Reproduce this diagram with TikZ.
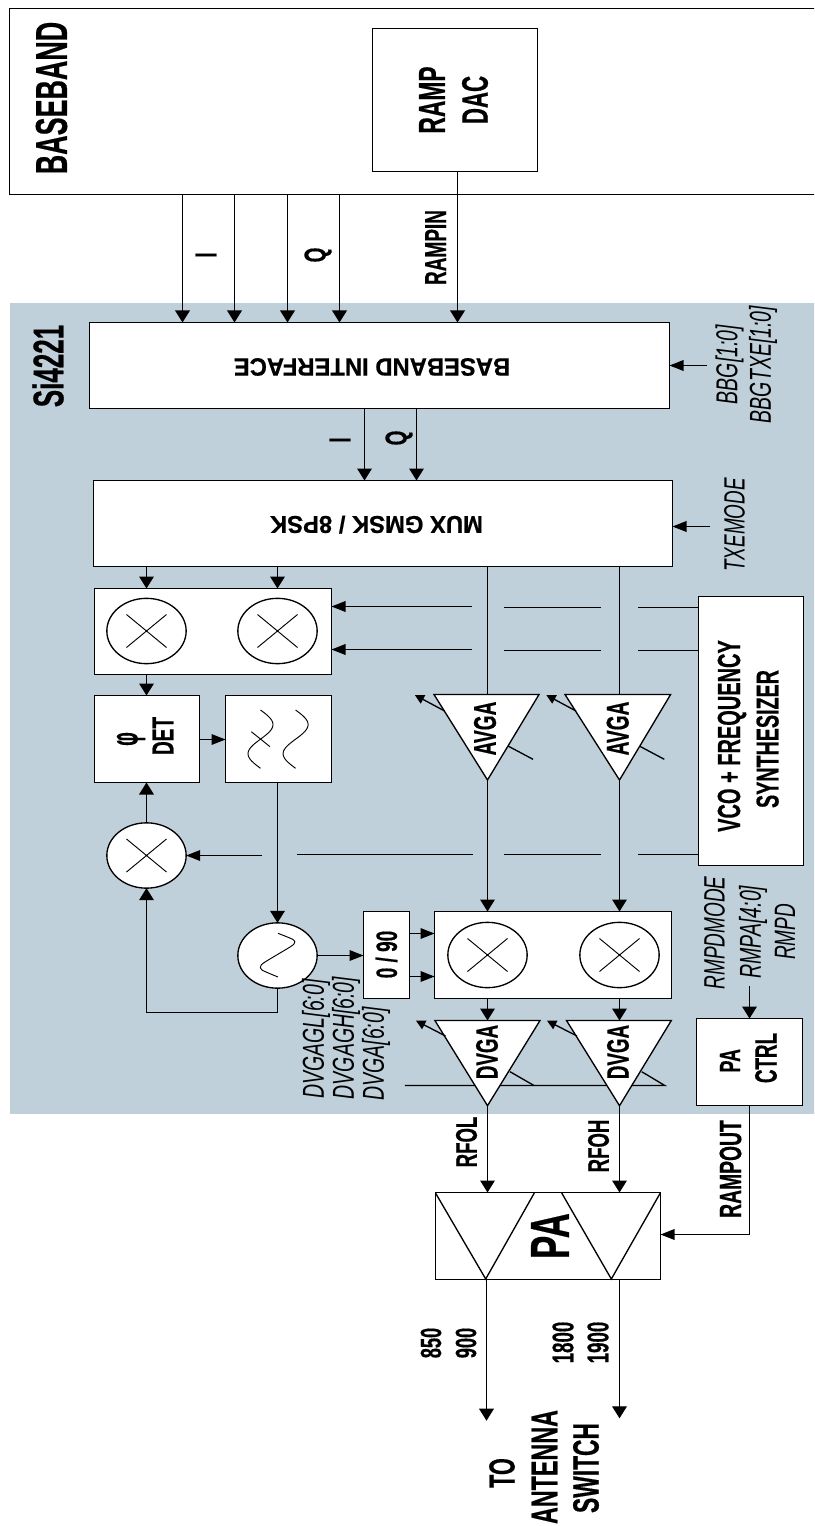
\documentclass[tikz,border=0pt]{standalone}
\usepackage{fontspec}
\usepackage{graphicx}
\setmainfont[BoldFeatures={FakeBold=0.6}]{Liberation Sans}
\usetikzlibrary{arrows.meta,fit,shapes.geometric}
\newdimen\pxd
\newcommand\TX[3]{{\pxd=#1pt \pxd=.75\pxd \fontsize{\the\pxd}{\the\pxd}\selectfont\scalebox{1}[#2]{#3}}}
\definecolor{panel}{HTML}{BFD0DA}
\tikzset{
  lw/.style={line width=1pt},
  boxn/.style={draw=black,fill=white,line width=1.2pt,inner sep=0pt,outer sep=0pt,rectangle},
  conn/.style={lw,draw=black},
  ar/.style={conn,-{Triangle[length=9pt,width=11pt]}},
  har/.style={conn,-{Triangle[length=10.5pt,width=8pt]}},
  tinyar/.style={conn,-{Triangle[length=7pt,width=7pt]}},
  mixc/.style={ellipse,draw=black,fill=white,lw,inner sep=0pt,outer sep=0pt,minimum width=59.5pt,minimum height=49pt,
    path picture={\draw[line width=0.7pt] (path picture bounding box.center) ++(-20,-16.5) -- ++(40,33) ++(-40,0) -- ++(40,-33);}},
  oscc/.style={ellipse,draw=black,fill=white,lw,inner sep=0pt,outer sep=0pt,minimum width=59.5pt,minimum height=49pt},
  tri/.style={draw=black,fill=white,lw,line join=miter},
  bl/.style={rotate=90,inner sep=0pt,font=\bfseries},
  il/.style={rotate=90,inner sep=0pt,font=\itshape},
  fl/.style={rotate=180,inner sep=0pt,font=\bfseries},
}
\begin{document}
\begin{tikzpicture}[x=0.75pt,y=-0.75pt]
\path[use as bounding box,clip] (0,0) rectangle (814,1526);
\fill[white] (0,0) rectangle (814,1526);
% panel
\node[fill=panel,inner sep=0pt,outer sep=0pt,fit={(10,303)(830,1113.7)}] (panel) {};
% top blocks
\node[boxn,fit={(9.5,8.5)(840,194.5)}] (bb) {};
\node[boxn,line width=1pt,fit={(372.5,28.5)(537.5,171.5)}] (dac) {};
\node[bl] (tbb) at (51.5,98) {\TX{26.9}{1.66}{BASEBAND}};
\node[bl] (tramp) at (432,100) {\TX{22.8}{1.65}{RAMP}};
\node[bl] (tdac) at (475,100) {\TX{22.3}{1.65}{DAC}};
\node[bl] (tsi) at (48,366) {\TX{26}{1.65}{Si4221}};
% main boxes
\node[boxn,fit={(89.5,322.5)(669.5,408.5)}] (bif) {};
\node[boxn,fit={(93.5,480.5)(672.5,566.5)}] (mux) {};
\node[boxn,fit={(94.5,588.5)(331.5,674.5)}] (mixt) {};
\node[boxn,fit={(94.5,695.5)(199.5,782.5)}] (det) {};
\node[boxn,fit={(225.5,695.5)(331.5,782.5)}] (filt) {};
\node[boxn,fit={(698.5,596.5)(803.5,865.5)}] (vco) {};
\node[boxn,fit={(363.5,911.5)(409.5,998.5)}] (ph) {};
\node[boxn,fit={(434.5,911.5)(671.5,998.5)}] (mixb) {};
\node[boxn,fit={(696.5,1018.5)(802.5,1105.5)}] (pactl) {};
\node[boxn,line width=1pt,fit={(435.5,1192.5)(660.5,1279.5)}] (pa) {};
% mixers
\node[mixc] (m1) at (146.5,631) {};
\node[mixc] (m2) at (277.5,631) {};
\node[mixc] (m3) at (146.5,855.5) {};
\node[mixc] (m4) at (487.5,955) {};
\node[mixc] (m5) at (619.5,955) {};
\node[oscc] (osc) at (277.5,955.5) {};
% oscillator wave and filter waves
\draw[line width=0.7pt] plot[smooth,tension=.5] coordinates {(278,933.3) (293,939.5) (294.5,943) (290,947) (265,962) (260.8,966) (262,970) (278,977)};
\draw[line width=0.7pt] plot[domain=0:360,samples=41] ({260.5+12.5*sin(\x)},{710+\x/360*58.3});
\draw[line width=0.7pt] plot[domain=0:360,samples=41] ({295.6+12.5*sin(\x)},{710+\x/360*58.3});
\draw[line width=0.7pt] (251.3,731.7) -- (270,746.7);
% top arrows
\draw[ar] (182.5,0 |- bb.south) -- (182.5,0 |- bif.north);
\draw[ar] (234.5,0 |- bb.south) -- (234.5,0 |- bif.north);
\draw[ar] (287.5,0 |- bb.south) -- (287.5,0 |- bif.north);
\draw[ar] (339.5,0 |- bb.south) -- (339.5,0 |- bif.north);
\draw[ar] (457.5,0 |- dac.south) -- (457.5,0 |- bif.north);
\draw[ar] (364.5,0 |- bif.south) -- (364.5,0 |- mux.north);
\draw[ar] (416.5,0 |- bif.south) -- (416.5,0 |- mux.north);
\coordinate (bbgin) at (707,365.5);
\draw[har] (bbgin) -- (bbgin -| bif.east);
\coordinate (txin) at (710,526.5);
\draw[har] (txin) -- (txin -| mux.east);
\draw[ar] (m1 |- mux.south) -- (m1 |- mixt.north);
\draw[ar] (m2 |- mux.south) -- (m2 |- mixt.north);
\draw[ar] (m1 |- mixt.south) -- (m1 |- det.north);
\coordinate (dy) at (0,739.5);
\draw[har] (det.east |- dy) -- (filt.west |- dy);
% triangles coordinates
\coordinate (a1l) at (434,694.5); \coordinate (a1r) at (539,694.5); \coordinate (a1b) at (487.5,780);
\coordinate (a2l) at (565,694.5); \coordinate (a2r) at (670.6,694.5); \coordinate (a2b) at (619.5,780);
\coordinate (d1l) at (434.9,1020.5); \coordinate (d1r) at (540,1020.5); \coordinate (d1b) at (487.5,1105.7);
\coordinate (d2l) at (566.5,1020.5); \coordinate (d2r) at (671.3,1020.5); \coordinate (d2b) at (619.5,1105.7);
% vertical through lines
\draw[conn] (a1b |- mux.south) -- (a1b |- a1l);
\draw[conn] (a2b |- mux.south) -- (a2b |- a2l);
\draw[ar] (a1b) -- (a1b |- mixb.north);
\draw[ar] (a2b) -- (a2b |- mixb.north);
% LO lines with gaps
\coordinate (l1a) at (638,607.5); \coordinate (l1b) at (601,607.5); \coordinate (l1c) at (503.8,607.5); \coordinate (l1d) at (471.5,606.5);
\coordinate (l2a) at (638,650.5); \coordinate (l2b) at (601,650.5); \coordinate (l2c) at (503.8,650.5); \coordinate (l2d) at (471.5,649.5);
\coordinate (l3a) at (638,854.5); \coordinate (l3b) at (601,854.5); \coordinate (l3c) at (503.8,854.5); \coordinate (l3d) at (473,854.5);
\coordinate (l3e) at (297,854.5); \coordinate (l3f) at (262.4,855.5);
\draw[conn] (l1a -| vco.west) -- (l1a) (l1b) -- (l1c);
\draw[har] (l1d) -- (l1d -| mixt.east);
\draw[conn] (l2a -| vco.west) -- (l2a) (l2b) -- (l2c);
\draw[har] (l2d) -- (l2d -| mixt.east);
\draw[conn] (l3a -| vco.west) -- (l3a) (l3b) -- (l3c) (l3d) -- (l3e);
\draw[har] (l3f) -- (m3.east);
% loop
\draw[ar] (m3.north) -- (m3 |- det.south);
\draw[ar] (osc |- filt.south) -- (osc.north);
\coordinate (loopa) at (277.5,1012.5);
\coordinate (loopb) at (146.5,1012.5);
\draw[ar] (osc.south) -- (loopa) -- (loopb) -- (m3.south);
\draw[har] (osc.east) -- (ph.west |- osc);
\coordinate (p1) at (409,933.5); \coordinate (p2) at (409,976.5);
\draw[har] (p1) -- (p1 -| mixb.west);
\draw[har] (p2) -- (p2 -| mixb.west);
\draw[ar] (m4 |- mixb.south) -- (d1l -| m4);
\draw[ar] (m5 |- mixb.south) -- (d2l -| m5);
% DVGA control line
\coordinate (ctla) at (404.9,1085.5); \coordinate (ctlb) at (664.8,1085.5); \coordinate (ctlc) at (534,1085.5);
\coordinate (ctlt1) at (510,1071.7); \coordinate (ctlt2) at (641.7,1071.7);
\draw[conn] (ctla) -- (ctlb) -- (ctlt2);
\draw[conn] (ctlc) -- (ctlt1);
% AVGA slanted controls
\coordinate (av1) at (508,746); \coordinate (av1e) at (533,759.3);
\coordinate (av2) at (639.3,746); \coordinate (av2e) at (664.3,759.3);
\draw[conn] (av1) -- (av1e);
\draw[conn] (av2) -- (av2e);
% triangles
\draw[tri] (a1l) -- (a1r) -- (a1b) -- cycle;
\draw[tri] (a2l) -- (a2r) -- (a2b) -- cycle;
\draw[tri] (d1l) -- (d1r) -- (d1b) -- cycle;
\draw[tri] (d2l) -- (d2r) -- (d2b) -- cycle;
% tiny arrows
\coordinate (ta1) at (444.6,711); \coordinate (ta1e) at (414.8,695);
\coordinate (ta2) at (576,711); \coordinate (ta2e) at (546.3,695);
\coordinate (ta3) at (445.5,1036); \coordinate (ta3e) at (416,1020.7);
\coordinate (ta4) at (577,1036); \coordinate (ta4e) at (547,1020.7);
\draw[tinyar] (ta1) -- (ta1e);
\draw[tinyar] (ta2) -- (ta2e);
\draw[tinyar] (ta3) -- (ta3e);
\draw[tinyar] (ta4) -- (ta4e);
% PA interior
\coordinate (pt1) at (435.5,1193); \coordinate (pt2) at (485.7,1279); \coordinate (pt3) at (534.3,1193);
\coordinate (pt4) at (561.7,1193); \coordinate (pt5) at (611.3,1279); \coordinate (pt6) at (660.3,1193);
\draw[conn] (pt1) -- (pt2) -- (pt3);
\draw[conn] (pt4) -- (pt5) -- (pt6);
% PA connectors
\draw[ar] (d1b) -- (d1b |- pa.north);
\draw[ar] (d2b) -- (d2b |- pa.north);
\coordinate (ro) at (749.5,1234.5);
\draw[har] (pactl.south -| ro) -- (ro) -- (ro -| pa.east);
\coordinate (rin) at (749.5,986);
\draw[ar] (rin) -- (rin |- pactl.north);
\coordinate (o1) at (486.5,1420.7); \coordinate (o2) at (619.5,1418.3);
\draw[ar] (o1 |- pa.south) -- (o1);
\draw[ar] (o2 |- pa.south) -- (o2);
% labels
\node[bl] (trampin) at (435.6,247.5) {\TX{19}{1.6}{RAMPIN}};
\node[bl] (tI1) at (206,255) {\TX{19}{1.6}{I}};
\node[bl] (tQ1) at (318,255) {\TX{19}{1.6}{Q}};
\node[bl] (tI2) at (340,440) {\TX{19}{1.6}{I}};
\node[bl] (tQ2) at (399,438) {\TX{19}{1.6}{Q}};
\node[il] (tbbg) at (729.5,364.5) {\TX{19.5}{1.55}{BBG[1:0]}};
\node[il] (tbbgt) at (763,364.5) {\TX{19.5}{1.55}{BBGTXE[1:0]}};
\node[fl] (tbif) at (372,367) {\TX{23.8}{1.05}{BASEBAND INTERFACE}};
\node[fl] (tmux) at (376.5,524.7) {\TX{23.8}{1.02}{MUX GMSK / 8PSK}};
\node[il] (ttx) at (734.5,525) {\TX{18.9}{1.55}{TXEMODE}};
\node[bl] (tphi) at (131,739) {\TX{19}{2}{φ}};
\node[bl] (tdet) at (163,736) {\TX{19}{1.6}{DET}};
\node[bl] (tav1) at (485,728.5) {\TX{19.1}{1.65}{AVGA}};
\node[bl] (tav2) at (617.7,728.5) {\TX{19.1}{1.65}{AVGA}};
\node[bl] (tvco1) at (732,736) {\TX{20}{1.6}{VCO + FREQUENCY}};
\node[bl] (tvco2) at (767.6,739) {\TX{19.7}{1.6}{SYNTHESIZER}};
\node[bl] (t090) at (386.5,954.5) {\TX{19}{1.55}{0 / 90}};
\node[bl] (tdv1) at (487,1052) {\TX{18.8}{1.65}{DVGA}};
\node[bl] (tdv2) at (618,1052) {\TX{18.8}{1.65}{DVGA}};
\node[bl] (tpa1) at (730,1060.7) {\TX{17.8}{1.65}{PA}};
\node[bl] (tctrl) at (766,1058) {\TX{18.8}{1.65}{CTRL}};
\node[il] (trm1) at (714.5,933) {\TX{19}{1.55}{RMPDMODE}};
\node[il] (trm2) at (753,932) {\TX{19.5}{1.55}{RMPA[4:0]}};
\node[il] (trm3) at (785,932) {\TX{19}{1.55}{RMPD}};
\node[il] (tdg1) at (316,1039) {\TX{19.5}{1.55}{DVGAGL[6:0]}};
\node[il] (tdg2) at (346,1038) {\TX{19.5}{1.55}{DVGAGH[6:0]}};
\node[il] (tdg3) at (376,1054) {\TX{19.5}{1.55}{DVGA[6:0]}};
\node[bl] (trfol) at (466.5,1142) {\TX{18.6}{1.6}{RFOL}};
\node[bl] (trfoh) at (598.5,1146) {\TX{18.6}{1.6}{RFOH}};
\node[bl] (trout) at (730.5,1169) {\TX{19.3}{1.6}{RAMPOUT}};
\node[bl] (tpa) at (550,1236) {\TX{34.8}{1.58}{PA}};
\node[bl] (t850) at (431,1343) {\TX{18.2}{1.6}{850}};
\node[bl] (t900) at (466,1343) {\TX{18.2}{1.6}{900}};
\node[bl] (t1800) at (563,1342.5) {\TX{18.7}{1.6}{1800}};
\node[bl] (t1900) at (598,1342.5) {\TX{18.7}{1.6}{1900}};
\node[bl] (tto) at (502,1473) {\TX{21.6}{1.68}{TO}};
\node[bl] (tant) at (544.5,1467) {\TX{23.3}{1.6}{ANTENNA}};
\node[bl] (tsw) at (586,1468) {\TX{22.8}{1.6}{SWITCH}};
\end{tikzpicture}
\end{document}
